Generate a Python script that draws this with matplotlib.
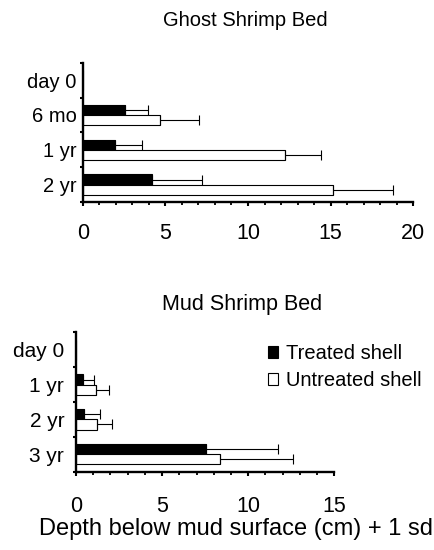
import matplotlib
matplotlib.use("Agg")
import matplotlib.pyplot as plt
import numpy as np
from matplotlib.ticker import MultipleLocator, FixedLocator, NullFormatter, FixedFormatter

plt.rcParams['font.family'] = ['Liberation Sans', 'DejaVu Sans']

# ---- data ----
ghost_cats = ["day 0", "6 mo", "1 yr", "2 yr"]
ghost_treated = [0.0, 2.56, 1.98, 4.21]
ghost_treated_sd = [0.0, 1.38, 1.61, 2.99]
ghost_untreated = [0.0, 4.70, 12.24, 15.12]
ghost_untreated_sd = [0.0, 2.34, 2.16, 3.68]

mud_cats = ["day 0", "1 yr", "2 yr", "3 yr"]
mud_treated = [0.0, 0.39, 0.48, 7.55]
mud_treated_sd = [0.0, 0.63, 0.91, 4.20]
mud_untreated = [0.0, 1.16, 1.24, 8.36]
mud_untreated_sd = [0.0, 0.76, 0.87, 4.22]

ghost_xticks = [0, 5, 10, 15, 20]
mud_xticks = [0, 5, 10, 15]

title_top = "Ghost Shrimp Bed"
title_bottom = "Mud Shrimp Bed"
xlabel = "Depth below mud surface (cm) + 1 sd"
legend_labels = ["Treated shell", "Untreated shell"]

W, H = 435, 550
fig = plt.figure(figsize=(W / 100, H / 100), dpi=100)


def px_axes(left, top, right, bottom):
    return fig.add_axes([left / W, 1 - bottom / H, (right - left) / W, (bottom - top) / H])


def draw_panel(ax, cats, t, tsd, u, usd, xmax, xticks, ytick_size, ytick_pad, xtick_size, xtick_pad):
    n = len(cats)
    centers = np.arange(n)[::-1] + 0.5  # first category at top
    h = 0.29
    t = np.array(t); u = np.array(u); tsd = np.array(tsd); usd = np.array(usd)
    bt = ax.barh(centers + h / 2, t, height=h, color='black', edgecolor='black', linewidth=0.8)
    bu = ax.barh(centers - h / 2, u, height=h, color='white', edgecolor='black', linewidth=0.8)
    mt = t > 0
    mu = u > 0
    ax.errorbar(t[mt], (centers + h / 2)[mt], xerr=[np.zeros(mt.sum()), tsd[mt]], fmt='none',
                ecolor='black', elinewidth=0.8, capsize=3.6, capthick=0.8)
    ax.errorbar(u[mu], (centers - h / 2)[mu], xerr=[np.zeros(mu.sum()), usd[mu]], fmt='none',
                ecolor='black', elinewidth=0.8, capsize=3.6, capthick=0.8)
    ax.set_xlim(0, xmax)
    ax.set_ylim(0, n)
    for s in ['top', 'right']:
        ax.spines[s].set_visible(False)
    for s in ['left', 'bottom']:
        ax.spines[s].set_linewidth(1.7)
    # y ticks: marks at boundaries, labels at centres
    ax.yaxis.set_major_locator(FixedLocator(np.arange(n + 1)))
    ax.yaxis.set_major_formatter(NullFormatter())
    ax.yaxis.set_minor_locator(FixedLocator(centers))
    ax.yaxis.set_minor_formatter(FixedFormatter(cats))
    ax.tick_params(axis='y', which='major', direction='out', length=2.5, width=1.5)
    ax.tick_params(axis='y', which='minor', length=0, pad=ytick_pad, labelsize=ytick_size)
    ax.set_xticks(xticks)
    ax.xaxis.set_minor_locator(MultipleLocator(1))
    ax.tick_params(axis='x', which='major', direction='out', length=3, width=1.5,
                   labelsize=xtick_size, pad=xtick_pad)
    ax.tick_params(axis='x', which='minor', direction='out', length=2.5, width=1.3)
    ax.patch.set_alpha(0)
    return bt, bu


ax1 = px_axes(82.7, 62.7, 413.3, 202)
draw_panel(ax1, ghost_cats, ghost_treated, ghost_treated_sd, ghost_untreated, ghost_untreated_sd,
           20, ghost_xticks, 14.5, 4.5, 15.5, 12)

ax2 = px_axes(76, 332.3, 334.3, 471.7)
bt, bu = draw_panel(ax2, mud_cats, mud_treated, mud_treated_sd, mud_untreated, mud_untreated_sd,
                    15, mud_xticks, 15, 8.5, 15.5, 14.5)

fig.text(245.5 / W, 1 - 25.7 / H, title_top, ha='center', va='baseline', fontsize=14.5)
fig.text(242 / W, 1 - 310 / H, title_bottom, ha='center', va='baseline', fontsize=15.5)
fig.text(236 / W, 1 - 535.5 / H, xlabel, ha='center', va='baseline', fontsize=17)

fig.legend([bt, bu], legend_labels, loc='upper left',
           bbox_to_anchor=(268 / W, 1 - 344 / H), frameon=False, fontsize=14.5,
           handlelength=0.5, handleheight=0.55, handletextpad=0.4, labelspacing=0.4,
           borderpad=0, borderaxespad=0)

fig.savefig("out.png", dpi=100)
